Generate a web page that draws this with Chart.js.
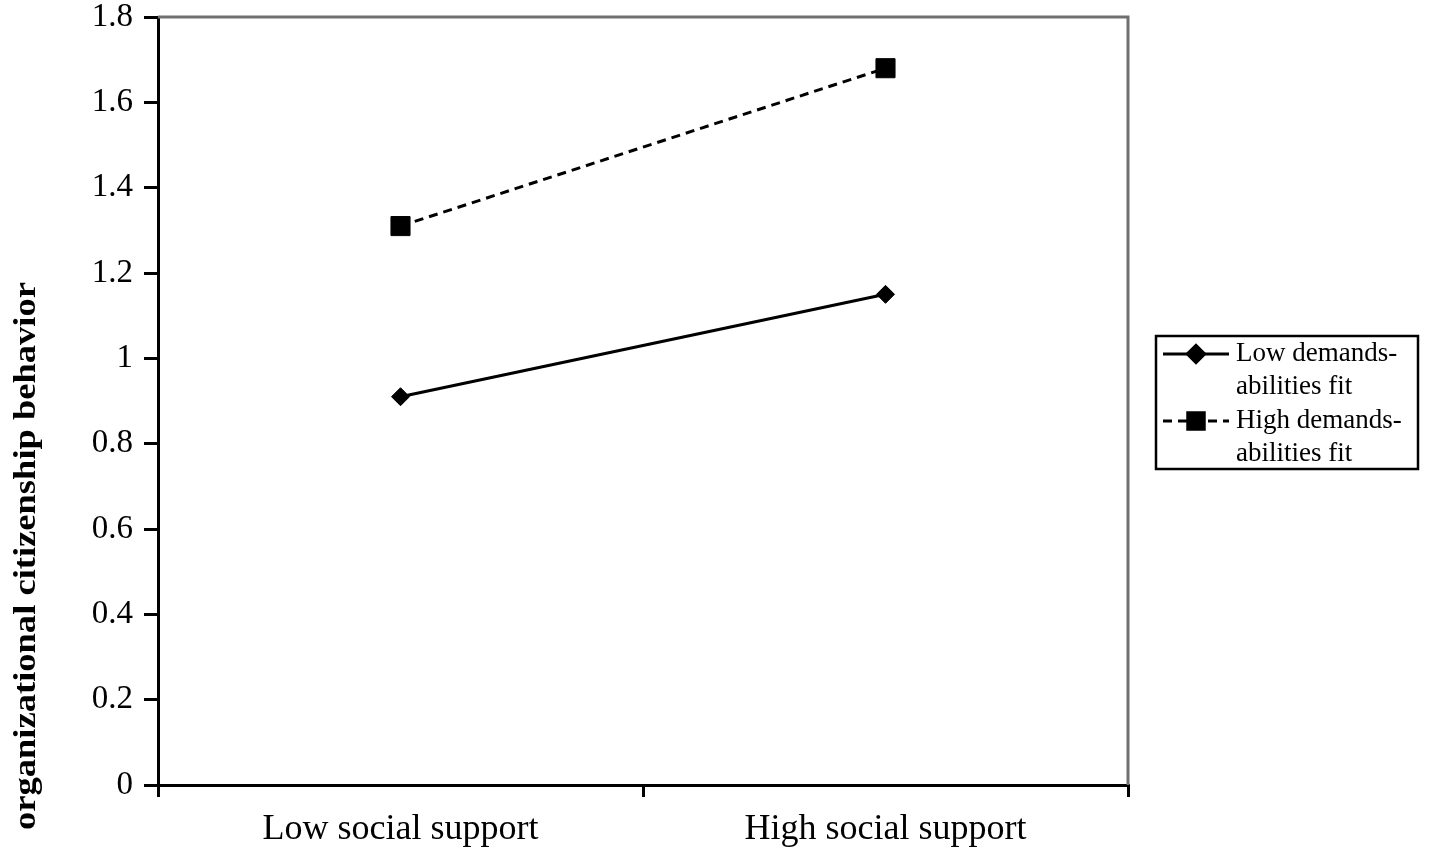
<!DOCTYPE html>
<html>
<head>
<meta charset="utf-8">
<script src="https://cdn.jsdelivr.net/npm/chart.js@4.4.1/dist/chart.umd.min.js"></script>
<style>
html,body{margin:0;padding:0;background:#fff;}
#wrap{width:1429px;height:858px;position:relative;}
</style>
</head>
<body>
<div id="wrap"><canvas id="c" width="1429" height="858"></canvas></div>
<script>
// ---- data ----
const categories = ["Low social support", "High social support"];
const lowFitValues = [0.91, 1.15];
const highFitValues = [1.31, 1.68];
const lowFitLabel = ["Low demands-", "abilities fit"];
const highFitLabel = ["High demands-", "abilities fit"];
const yTicks = [0, 0.2, 0.4, 0.6, 0.8, 1, 1.2, 1.4, 1.6, 1.8];
const yTitle = "organizational citizenship behavior";

const SERIF = "'Liberation Serif', 'Times New Roman', serif";

const framePlugin = {
  id: 'frame',
  afterDatasetsDraw(chart) {
    const {ctx, chartArea: a} = chart;
    ctx.save();
    ctx.strokeStyle = '#707070';
    ctx.lineWidth = 3;
    ctx.beginPath();
    ctx.moveTo(a.left, a.top);
    ctx.lineTo(a.right, a.top);
    ctx.lineTo(a.right, a.bottom);
    ctx.stroke();
    ctx.restore();
  }
};

const titlePlugin = {
  id: 'ytitle',
  afterDraw(chart) {
    const ctx = chart.ctx;
    ctx.save();
    ctx.font = "bold 31px " + SERIF;
    ctx.fillStyle = '#000';
    ctx.translate(27, 556);
    ctx.rotate(-Math.PI / 2);
    const w = ctx.measureText(yTitle).width;
    ctx.scale(548 / w, 1);
    ctx.textAlign = 'center';
    ctx.textBaseline = 'middle';
    ctx.fillText(yTitle, 0, 0);
    ctx.restore();
  }
};

const legendPlugin = {
  id: 'boxlegend',
  afterDraw(chart) {
    const ctx = chart.ctx;
    const bx = 1156, by = 336, bw = 262, bh = 133;
    ctx.save();
    ctx.fillStyle = '#fff';
    ctx.fillRect(bx, by, bw, bh);
    ctx.strokeStyle = '#000';
    ctx.lineWidth = 2.5;
    ctx.strokeRect(bx, by, bw, bh);
    ctx.font = "27px " + SERIF;
    ctx.textBaseline = 'middle';
    ctx.textAlign = 'left';
    chart.data.datasets.forEach((ds, i) => {
      const y0 = by + 18 + i * 67;
      ctx.save();
      ctx.strokeStyle = '#000';
      ctx.lineWidth = 3;
      ctx.setLineDash(ds.borderDash || []);
      ctx.beginPath();
      ctx.moveTo(1163, y0);
      ctx.lineTo(1229, y0);
      ctx.stroke();
      ctx.restore();
      ctx.fillStyle = '#000';
      ctx.strokeStyle = '#000';
      Chart.helpers.drawPoint(ctx, {
        pointStyle: ds.pointStyle,
        radius: ds.pointStyle === 'rect' ? 12 : 9,
        borderWidth: 1
      }, 1196, y0);
      ds.label.forEach((t, j) => {
        ctx.fillStyle = '#000';
        ctx.fillText(t, 1236, y0 + j * 33);
      });
    });
    ctx.restore();
  }
};

new Chart(document.getElementById('c'), {
  type: 'line',
  data: {
    labels: categories,
    datasets: [
      {
        label: lowFitLabel,
        data: lowFitValues,
        borderColor: '#000',
        backgroundColor: '#000',
        borderWidth: 3,
        pointStyle: 'rectRot',
        pointRadius: 9,
        pointBorderWidth: 1,
        pointBackgroundColor: '#000',
        pointBorderColor: '#000',
        tension: 0
      },
      {
        label: highFitLabel,
        data: highFitValues,
        borderColor: '#000',
        backgroundColor: '#000',
        borderWidth: 3,
        borderDash: [9, 6],
        pointStyle: 'rect',
        pointRadius: 13.5,
        pointBorderWidth: 1,
        pointBackgroundColor: '#000',
        pointBorderColor: '#000',
        tension: 0
      }
    ]
  },
  options: {
    responsive: false,
    animation: false,
    devicePixelRatio: 1,
    layout: { padding: { left: 0, top: 17, right: 301, bottom: 0 } },
    plugins: {
      legend: { display: false },
      tooltip: { enabled: false },
      title: { display: false }
    },
    scales: {
      x: {
        type: 'category',
        offset: true,
        grid: {
          offset: true,
          drawOnChartArea: false,
          drawTicks: true,
          tickLength: 12,
          color: '#000',
          lineWidth: 3
        },
        border: { display: true, color: '#000', width: 3 },
        ticks: {
          color: '#000',
          font: { family: SERIF, size: 36 },
          padding: 11,
          maxRotation: 0
        },
        afterFit(scale) { scale.height = 73; }
      },
      y: {
        min: 0,
        max: 1.8,
        afterBuildTicks(scale) { scale.ticks = yTicks.map(v => ({ value: v })); },
        grid: {
          drawOnChartArea: false,
          drawTicks: true,
          tickLength: 14,
          color: '#000',
          lineWidth: 3
        },
        border: { display: true, color: '#000', width: 3 },
        ticks: {
          color: '#000',
          font: { family: SERIF, size: 33 },
          padding: 11,
          callback: (v) => String(Math.round(v * 10) / 10)
        },
        afterFit(scale) {
          scale.width = 158;
          scale.paddingTop = 0;
          scale.paddingBottom = 0;
        }
      }
    }
  },
  plugins: [framePlugin, titlePlugin, legendPlugin]
});
</script>
</body>
</html>
